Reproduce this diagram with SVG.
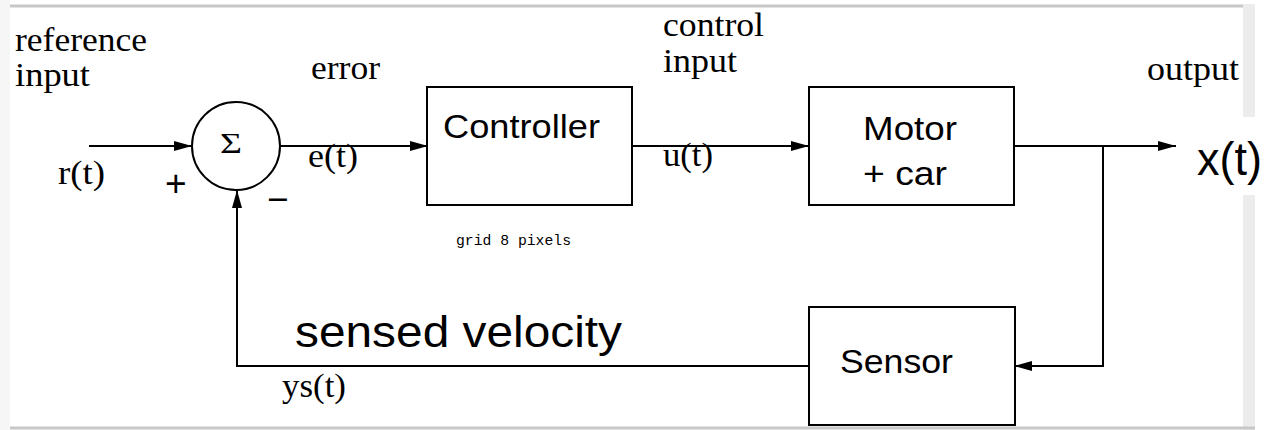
<svg xmlns="http://www.w3.org/2000/svg" width="1266" height="430" viewBox="0 0 1266 430">
  <style>
    .box { fill: #ffffff; stroke: #000000; stroke-width: 2; }
    .wire { fill: none; stroke: #000000; stroke-width: 2; }
    .serif { font-family: "Liberation Serif", "Times New Roman", serif; font-size: 33px; fill: #000000; }
    .sans { font-family: "Liberation Sans", Arial, sans-serif; font-size: 34px; fill: #000000; }
    .mono { font-family: "Liberation Mono", "Courier New", monospace; font-size: 14px; fill: #000000; }
    .sign { font-family: "Liberation Sans", Arial, sans-serif; font-size: 37px; fill: #000000; }
    .frame { fill: none; stroke: #c8c8c8; stroke-width: 3; }
  </style>
  <defs>
    <marker id="arrow" markerUnits="userSpaceOnUse" markerWidth="18" markerHeight="10" refX="18" refY="5" orient="auto">
      <path d="M0,0 L18,5 L0,10 Z" fill="#000000"/>
    </marker>
  </defs>

  <!-- page background and frame -->
  <rect x="0" y="0" width="1266" height="430" fill="#ffffff"/>
  <rect x="0" y="0" width="10" height="430" fill="#f6f6f6"/>
  <rect x="1243" y="4" width="12" height="426" fill="#ececec"/>
  <line class="frame" x1="10" y1="6" x2="1243" y2="6"/>
  <line class="frame" x1="10" y1="428" x2="1255" y2="428"/>

  <!-- connectors -->
  <g id="connectors">
    <line class="wire" x1="89" y1="146" x2="192" y2="146" marker-end="url(#arrow)"/>
    <line class="wire" x1="280" y1="146" x2="428" y2="146" marker-end="url(#arrow)"/>
    <line class="wire" x1="632" y1="146" x2="809" y2="146" marker-end="url(#arrow)"/>
    <line class="wire" x1="1014" y1="146" x2="1176" y2="146" marker-end="url(#arrow)"/>
    <polyline class="wire" points="1103,146 1103,366 1014,366" marker-end="url(#arrow)"/>
    <polyline class="wire" points="809,366 237,366 237,190" marker-end="url(#arrow)"/>
  </g>

  <!-- summing junction -->
  <g id="sum">
    <circle cx="236" cy="146" r="44" fill="#ffffff" stroke="#000000" stroke-width="2"/>
    <text class="serif" x="220" y="153" style="font-size:30px" textLength="22" lengthAdjust="spacingAndGlyphs">Σ</text>
    <text class="sign" x="165" y="196">+</text>
    <text class="sign" x="267" y="212">−</text>
  </g>

  <!-- controller block -->
  <g id="controller">
    <rect class="box" x="427" y="87" width="205" height="118"/>
    <text class="sans" x="443" y="138" textLength="157" lengthAdjust="spacingAndGlyphs">Controller</text>
  </g>

  <!-- plant block -->
  <g id="motor">
    <rect class="box" x="809" y="87" width="205" height="118"/>
    <text class="sans" x="863" y="140" textLength="94" lengthAdjust="spacingAndGlyphs">Motor</text>
    <text class="sans" x="863" y="185" textLength="84" lengthAdjust="spacingAndGlyphs">+ car</text>
  </g>

  <!-- sensor block -->
  <g id="sensor">
    <rect class="box" x="809" y="307" width="206" height="118"/>
    <text class="sans" x="840" y="373" textLength="113" lengthAdjust="spacingAndGlyphs">Sensor</text>
  </g>

  <!-- signal labels -->
  <g id="labels">
    <text class="serif" x="15" y="51" textLength="132" lengthAdjust="spacingAndGlyphs">reference</text>
    <text class="serif" x="15" y="86" textLength="75" lengthAdjust="spacingAndGlyphs">input</text>
    <text class="serif" x="58" y="184" textLength="47" lengthAdjust="spacingAndGlyphs">r(t)</text>
    <text class="serif" x="311" y="79" textLength="69" lengthAdjust="spacingAndGlyphs">error</text>
    <text class="serif" x="308" y="167" textLength="50" lengthAdjust="spacingAndGlyphs">e(t)</text>
    <text class="serif" x="663" y="36" textLength="101" lengthAdjust="spacingAndGlyphs">control</text>
    <text class="serif" x="663" y="72" textLength="74" lengthAdjust="spacingAndGlyphs">input</text>
    <text class="serif" x="663" y="166" textLength="50" lengthAdjust="spacingAndGlyphs">u(t)</text>
    <text class="serif" x="1147" y="80" textLength="92" lengthAdjust="spacingAndGlyphs">output</text>
    <text class="serif" x="282" y="397" textLength="64" lengthAdjust="spacingAndGlyphs">ys(t)</text>
    <text class="mono" x="456" y="245" textLength="115" lengthAdjust="spacingAndGlyphs">grid 8 pixels</text>
    <text class="sans" x="295" y="347" style="font-size:44px" textLength="327" lengthAdjust="spacingAndGlyphs">sensed velocity</text>
    <rect x="1190" y="117" width="76" height="78" fill="#ffffff"/>
    <text class="sans" x="1197" y="175" style="font-size:46px" textLength="65" lengthAdjust="spacingAndGlyphs">x(t)</text>
  </g>
</svg>
